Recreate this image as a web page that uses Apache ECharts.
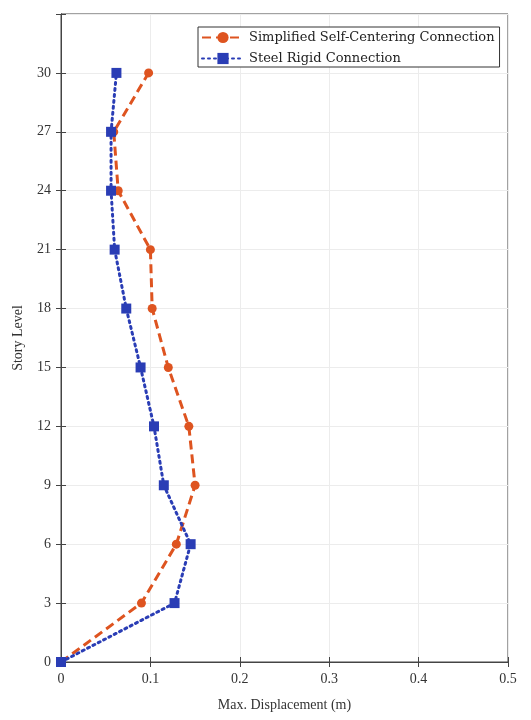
<!DOCTYPE html>
<html>
<head>
<meta charset="utf-8">
<script src="https://cdn.jsdelivr.net/npm/echarts@6/dist/echarts.min.js"></script>
<style>html,body{margin:0;padding:0;background:#fff;}#c{width:531px;height:720px;}</style>
</head>
<body>
<div id="c"></div>
<script>
const storyLevels = [0, 3, 6, 9, 12, 15, 18, 21, 24, 27, 30];
const selfCentering = [0, 0.090, 0.129, 0.150, 0.143, 0.120, 0.102, 0.100, 0.064, 0.059, 0.098];
const steelRigid = [0, 0.127, 0.145, 0.115, 0.104, 0.089, 0.073, 0.060, 0.056, 0.056, 0.062];
const seriesNames = ['Simplified Self-Centering Connection', 'Steel Rigid Connection'];
const xTitle = 'Max. Displacement (m)';
const yTitle = 'Story Level';

const font = 'Liberation Serif';
const chart = echarts.init(document.getElementById('c'));
const pairs = (xs) => xs.map((v, i) => [v, storyLevels[i]]);
chart.setOption({
  backgroundColor: '#fff',
  animation: false,
  grid: { left: 61, right: 23, top: 14, bottom: 58, show: true, borderColor: '#444', borderWidth: 1 },
  legend: {
    orient: 'vertical', left: 198, top: 27,
    backgroundColor: '#fff', borderColor: '#333', borderWidth: 1,
    padding: [4, 5, 2, 3], itemGap: 8, itemWidth: 42, itemHeight: 14,
    textStyle: { fontFamily: 'DejaVu Serif', fontSize: 13, color: '#222' },
    data: seriesNames
  },
  xAxis: [{
    type: 'value', min: 0, max: 0.5, interval: 0.1,
    name: xTitle, nameLocation: 'middle', nameGap: 36,
    nameTextStyle: { fontFamily: font, fontSize: 14, color: '#333' },
    axisLine: { show: true, lineStyle: { color: '#444' } },
    axisTick: { inside: true, length: 5, lineStyle: { color: '#444' } },
    axisLabel: { fontFamily: font, fontSize: 14, color: '#333', margin: 10, formatter: v => (v === 0 ? '0' : String(+v.toFixed(1))) },
    splitLine: { show: true, lineStyle: { color: '#ececec' } }
  }, {
    type: 'value', position: 'top', min: 0, max: 0.5, interval: 0.1,
    axisLine: { show: true, lineStyle: { color: '#444' } },
    axisTick: { inside: true, length: 5, lineStyle: { color: '#444' } },
    axisLabel: { show: false }, splitLine: { show: false }
  }],
  yAxis: [{
    type: 'value', min: 0, max: 33, interval: 3,
    name: yTitle, nameLocation: 'middle', nameGap: 36,
    nameTextStyle: { fontFamily: font, fontSize: 14, color: '#333' },
    axisLine: { show: true, lineStyle: { color: '#444' } },
    axisTick: { inside: true, length: 5, lineStyle: { color: '#444' } },
    axisLabel: { fontFamily: font, fontSize: 14, color: '#333', margin: 10, formatter: v => (v > 30 ? '' : String(v)) },
    splitLine: { show: true, lineStyle: { color: '#ececec' } }
  }, {
    type: 'value', position: 'right', min: 0, max: 33, interval: 3,
    axisLine: { show: true, lineStyle: { color: '#444' } },
    axisTick: { inside: true, length: 5, lineStyle: { color: '#444' } },
    axisLabel: { show: false }, splitLine: { show: false }
  }],
  series: [{
    name: seriesNames[0], type: 'line', data: pairs(selfCentering),
    symbol: 'circle', symbolSize: 9,
    itemStyle: { color: '#DE5420' },
    lineStyle: { color: '#DE5420', width: 3, type: [9, 5] },
    z: 3
  }, {
    name: seriesNames[1], type: 'line', data: pairs(steelRigid),
    symbol: 'rect', symbolSize: 10,
    itemStyle: { color: '#2A3DB5' },
    lineStyle: { color: '#2A3DB5', width: 3, type: [2, 4], cap: 'round' },
    z: 4
  }]
});
</script>
</body>
</html>
